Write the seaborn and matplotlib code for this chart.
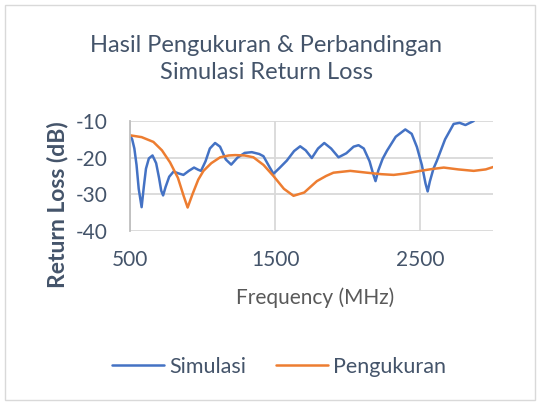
import matplotlib
matplotlib.use("Agg")
import matplotlib.pyplot as plt
import pandas as pd
import seaborn as sns
from matplotlib.patches import Rectangle

freq_sim = [500, 515, 530, 545, 560, 580, 595, 610, 630, 655, 680, 700, 715, 728, 745, 770, 800,
            835, 868, 905, 941, 970, 989, 1020, 1050, 1086, 1120, 1160, 1197, 1240, 1290, 1339,
            1390, 1419, 1460, 1488, 1530, 1580, 1630, 1672, 1710, 1752, 1795, 1838, 1885, 1936,
            1990, 2040, 2074, 2110, 2150, 2175, 2191, 2210, 2240, 2270, 2330, 2396, 2440, 2476,
            2510, 2535, 2550, 2565, 2590, 2614, 2670, 2729, 2770, 2810, 2867]
rl_sim = [-13.9, -15.0, -17.5, -22.0, -28.5, -33.5, -28.0, -23.0, -20.2, -19.4, -21.5, -25.5,
          -29.0, -30.3, -28.0, -25.2, -23.8, -24.3, -24.7, -23.6, -22.7, -23.3, -23.6, -21.0,
          -17.5, -16.0, -17.0, -20.5, -21.9, -20.0, -18.7, -18.5, -19.0, -19.6, -22.5, -24.4,
          -22.8, -20.8, -18.2, -16.9, -18.0, -20.1, -17.5, -16.0, -17.5, -19.9, -18.8, -17.0,
          -16.6, -17.5, -21.0, -24.5, -26.4, -23.5, -20.3, -18.1, -14.3, -12.3, -13.5, -17.1,
          -22.0, -27.0, -29.2, -26.5, -23.0, -20.8, -15.0, -10.8, -10.5, -11.1, -10.0]

freq_meas = [500, 580, 661, 720, 776, 830, 870, 897, 930, 970, 1006, 1060, 1121, 1180, 1224,
             1290, 1350, 1420, 1488, 1560, 1626, 1700, 1787, 1850, 1901, 2017, 2132, 2230,
             2316, 2400, 2500, 2580, 2661, 2760, 2867, 2950, 3005]
rl_meas = [-13.9, -14.4, -15.7, -18.0, -21.3, -25.5, -30.5, -33.6, -30.0, -26.0, -23.6, -21.5,
           -19.9, -19.4, -19.3, -19.4, -19.9, -22.0, -25.0, -28.5, -30.4, -29.5, -26.4, -25.0,
           -24.1, -23.6, -24.1, -24.5, -24.7, -24.3, -23.6, -23.1, -22.7, -23.2, -23.6, -23.2,
           -22.5]

series = ["Simulasi", "Pengukuran"]
x_ticks = [500, 1500, 2500]
y_ticks = [-10, -20, -30, -40]

text_color = "#44546A"
label_color = "#595959"
grid_color = "#D9D9D9"
colors = ["#4472C4", "#ED7D31"]

df = pd.concat([
    pd.DataFrame({"freq": freq_sim, "rl": rl_sim, "series": series[0]}),
    pd.DataFrame({"freq": freq_meas, "rl": rl_meas, "series": series[1]}),
])

sns.set_style("white")
plt.rcParams["font.family"] = ["Lato", "DejaVu Sans"]
plt.rcParams["axes.unicode_minus"] = False

fig = plt.figure(figsize=(5.4, 4.03), dpi=100)
ax = fig.add_axes([130 / 540, 1 - 231 / 403, 363 / 540, 110 / 403])

sns.lineplot(data=df, x="freq", y="rl", hue="series", hue_order=series,
             palette=colors, linewidth=1.8, sort=False,
             estimator=None, ax=ax, legend=False)

ax.set_xlim(500, 3000)
ax.set_ylim(-40, -10)
ax.set_xticks(x_ticks)
ax.set_yticks(y_ticks)
ax.grid(True, color=grid_color, linewidth=1.3)
ax.set_axisbelow(True)
for side in ["top", "right", "bottom"]:
    ax.spines[side].set_visible(False)
ax.spines["left"].set_color("#BFBFBF")
ax.spines["left"].set_linewidth(1.3)
ax.tick_params(length=0, labelsize=15, labelcolor=text_color)
ax.tick_params(axis="y", pad=16)
ax.tick_params(axis="x", pad=14)
ax.set_xlabel("")
ax.set_ylabel("")

fig.text(58 / 540, 1 - 205 / 403, "Return Loss (dB)", rotation=90, ha="center", va="center",
         fontsize=16.5, fontweight="bold", color=text_color)
fig.text(315 / 540, 1 - 298 / 403, "Frequency (MHz)", ha="center", va="center",
         fontsize=15, color=label_color)
fig.text(266 / 540, 1 - 59 / 403, "Hasil Pengukuran & Perbandingan\nSimulasi Return Loss",
         ha="center", va="center", fontsize=17, color=text_color, linespacing=1.4)

handles = [plt.Line2D([], [], color=c, linewidth=1.8) for c in colors]
fig.legend(handles, series, loc="center", bbox_to_anchor=(279 / 540, 1 - 367 / 403),
           ncol=2, frameon=False, fontsize=15.5, labelcolor=text_color,
           handlelength=2.4, handletextpad=0.25, columnspacing=1.4)

fig.patches.append(Rectangle((5 / 540, 3 / 403), 530 / 540, 395 / 403, transform=fig.transFigure,
                             fill=False, edgecolor="#D9D9D9", linewidth=1))

fig.savefig("out.png", dpi=100)
